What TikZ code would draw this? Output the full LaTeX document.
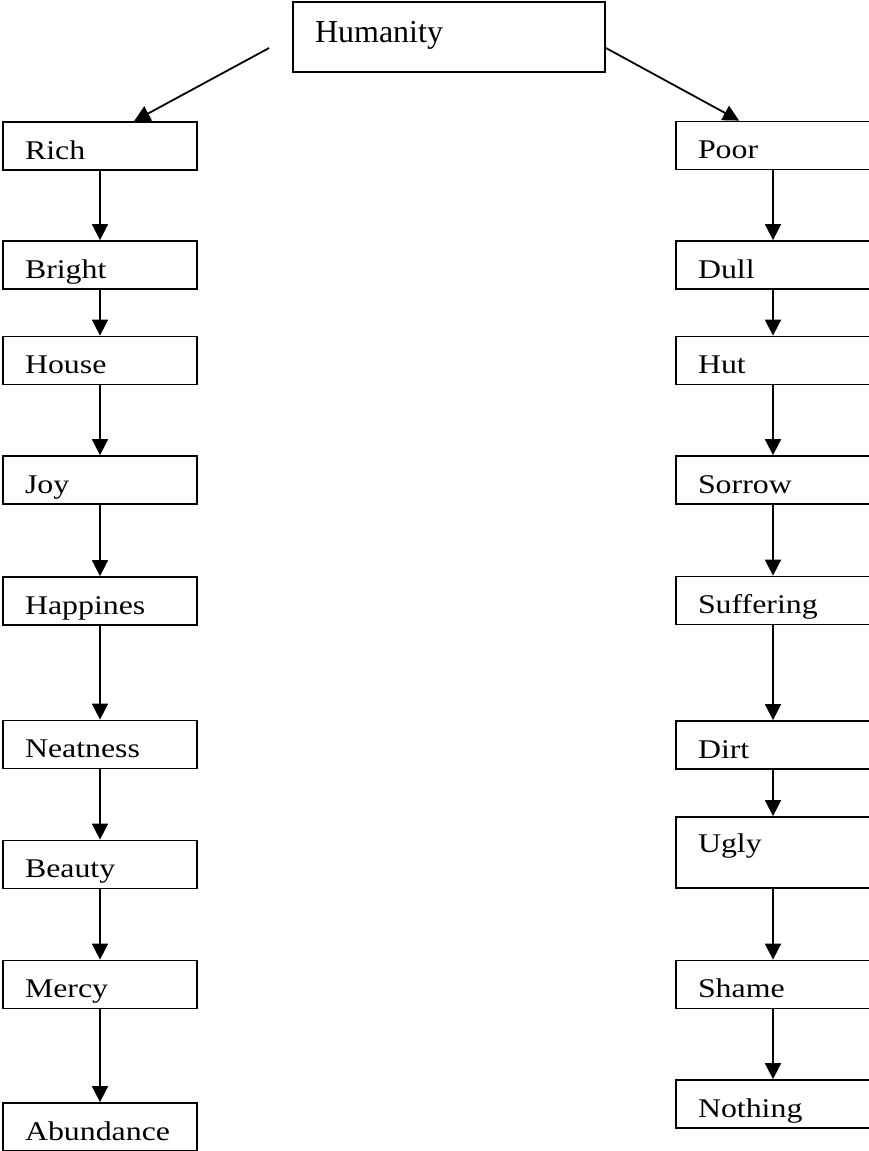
\documentclass[tikz,border=0pt]{standalone}
\usepackage{fontspec}
\setmainfont{Liberation Serif}
\newfontfamily\labelfont{Liberation Serif}[FakeStretch=1.18]
\usetikzlibrary{arrows.meta}
\begin{document}
\begin{tikzpicture}[x=1pt, y=-1pt,
  box/.style={draw, line width=1.8pt, rectangle, inner ysep=0pt, inner xsep=22pt,
    text width=150pt, align=left, minimum height=48pt,
    text height=26pt, text depth=0pt,
    font=\labelfont\fontsize{27}{30}\selectfont},
  tallbox/.style={box, minimum height=71pt, text height=18pt, text depth=18pt},
  topbox/.style={draw, line width=1.8pt, rectangle, inner ysep=0pt, inner xsep=22pt,
    text width=268pt, align=left, minimum height=70pt,
    text height=24pt, text depth=14pt,
    font=\fontsize{32}{36}\selectfont},
  link/.style={line width=1.8pt, -{Triangle[length=16pt, width=16pt]}}]

\useasboundingbox (0,0) rectangle (868,1151);

% root
\node[topbox] (hum) at (449,37) {Humanity};

% left branch
\node[box] (rich)  at (100,146)    {Rich};
\node[box] (brig)  at (100,265)    {Bright};
\node[box] (house) at (100,360.5)  {House};
\node[box] (joy)   at (100,480)    {Joy};
\node[box] (happ)  at (100,601)    {Happines};
\node[box] (neat)  at (100,744.5)  {Neatness};
\node[box] (beau)  at (100,864.5)  {Beauty};
\node[box] (merc)  at (100,984.5)  {Mercy};
\node[box] (abun)  at (100,1127)   {Abundance};

% right branch
\node[box] (poor)  at (773,145.5)  {Poor};
\node[box] (dull)  at (773,265)    {Dull};
\node[box] (hut)   at (773,360.5)  {Hut};
\node[box] (sorr)  at (773,480)    {Sorrow};
\node[box] (suff)  at (773,600.5)  {Suffering};
\node[box] (dirt)  at (773,745)    {Dirt};
\node[tallbox] (ugly) at (773,852.5) {Ugly};
\node[box] (shame) at (773,984.5)  {Shame};
\node[box] (noth)  at (773,1104)   {Nothing};

% branches from the root
\draw[link] ([xshift=-23pt, yshift=-11pt]hum.west) -- ([xshift=132pt]rich.north west);
\draw[link] ([yshift=-11pt]hum.east) -- ([xshift=64pt]poor.north west);

% left chain
\foreach \a/\b in {rich/brig, brig/house, house/joy, joy/happ, happ/neat,
                   neat/beau, beau/merc, merc/abun}
  \draw[link] (\a.south) -- (\b.north);

% right chain
\foreach \a/\b in {poor/dull, dull/hut, hut/sorr, sorr/suff, suff/dirt,
                   dirt/ugly, ugly/shame, shame/noth}
  \draw[link] (\a.south) -- (\b.north);
\end{tikzpicture}
\end{document}
